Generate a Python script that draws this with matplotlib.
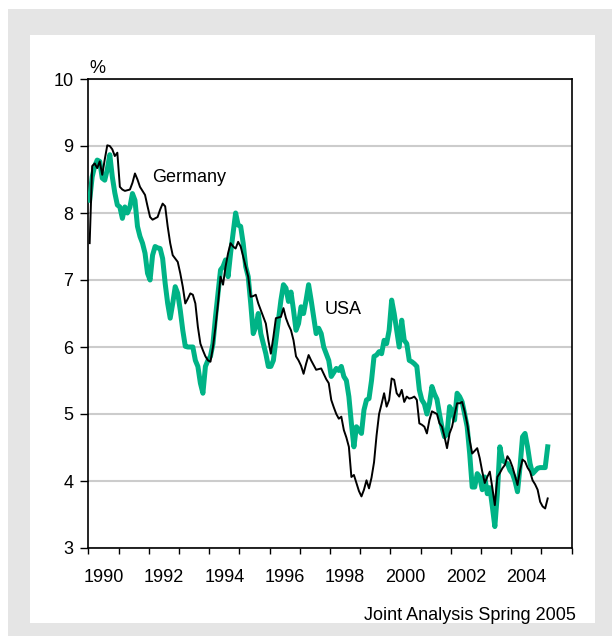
import numpy as np
import matplotlib
matplotlib.use("Agg")
import matplotlib.pyplot as plt
from matplotlib.patches import Rectangle

plt.rcParams['font.family'] = ['Liberation Sans', 'DejaVu Sans']

# monthly long-term interest rates, % (Jan 1990 - Mar 2005)
germany = [
    7.55, 8.70, 8.74, 8.67, 8.77, 8.57, 8.80, 9.01, 9.00, 8.95, 8.85, 8.90,  # 1990
    8.39, 8.35, 8.33, 8.34, 8.35, 8.45, 8.59, 8.50, 8.39, 8.33, 8.27, 8.10,  # 1991
    7.94, 7.90, 7.92, 7.94, 8.05, 8.14, 8.10, 7.80, 7.55, 7.37, 7.32, 7.27,  # 1992
    7.10, 6.90, 6.65, 6.72, 6.80, 6.78, 6.65, 6.30, 6.05, 5.95, 5.86, 5.80,  # 1993
    5.78, 6.00, 6.30, 6.65, 7.05, 6.93, 7.20, 7.40, 7.55, 7.50, 7.47, 7.57,  # 1994
    7.50, 7.35, 7.20, 7.05, 6.75, 6.76, 6.78, 6.65, 6.55, 6.45, 6.35, 6.10,  # 1995
    5.90, 6.15, 6.43, 6.44, 6.45, 6.58, 6.43, 6.33, 6.25, 6.10, 5.86, 5.80,  # 1996
    5.72, 5.60, 5.75, 5.88, 5.80, 5.73, 5.66, 5.67, 5.68, 5.60, 5.52, 5.46,  # 1997
    5.21, 5.10, 5.00, 4.93, 4.96, 4.76, 4.65, 4.51, 4.06, 4.09, 3.97, 3.85,  # 1998
    3.77, 3.87, 4.01, 3.89, 4.05, 4.28, 4.68, 5.00, 5.15, 5.31, 5.11, 5.21,  # 1999
    5.53, 5.51, 5.31, 5.26, 5.36, 5.18, 5.26, 5.23, 5.24, 5.26, 5.21, 4.86,  # 2000
    4.84, 4.81, 4.71, 4.91, 5.04, 5.02, 5.00, 4.86, 4.81, 4.66, 4.49, 4.71,  # 2001
    4.81, 4.99, 5.16, 5.16, 5.18, 5.04, 4.86, 4.61, 4.41, 4.45, 4.49, 4.34,  # 2002
    4.14, 3.97, 4.06, 4.14, 3.90, 3.64, 4.06, 4.12, 4.19, 4.24, 4.37, 4.31,  # 2003
    4.21, 4.08, 3.94, 4.16, 4.32, 4.29, 4.20, 4.14, 4.01, 3.95, 3.87, 3.69,  # 2004
    3.62, 3.59, 3.74,                                                        # 2005
]
usa = [
    8.19, 8.54, 8.70, 8.79, 8.77, 8.52, 8.49, 8.65, 8.87, 8.54, 8.30, 8.12,  # 1990
    8.09, 7.92, 8.09, 8.00, 8.09, 8.29, 8.19, 7.80, 7.65, 7.55, 7.40, 7.10,  # 1991
    7.00, 7.37, 7.50, 7.48, 7.47, 7.32, 6.95, 6.65, 6.43, 6.65, 6.90, 6.80,  # 1992
    6.55, 6.25, 6.01, 6.00, 6.00, 6.00, 5.80, 5.71, 5.46, 5.31, 5.71, 5.80,  # 1993
    5.86, 6.05, 6.45, 6.80, 7.15, 7.20, 7.30, 7.05, 7.40, 7.70, 8.00, 7.82,  # 1994
    7.80, 7.55, 7.20, 7.05, 6.65, 6.20, 6.30, 6.50, 6.20, 6.05, 5.90, 5.71,  # 1995
    5.71, 5.80, 6.10, 6.40, 6.70, 6.93, 6.88, 6.68, 6.82, 6.55, 6.25, 6.35,  # 1996
    6.60, 6.50, 6.70, 6.93, 6.70, 6.45, 6.20, 6.28, 6.20, 6.00, 5.90, 5.80,  # 1997
    5.56, 5.62, 5.68, 5.65, 5.71, 5.56, 5.50, 5.26, 4.86, 4.51, 4.81, 4.76,  # 1998
    4.71, 5.06, 5.21, 5.23, 5.50, 5.86, 5.88, 5.93, 5.90, 6.10, 6.05, 6.25,  # 1999
    6.70, 6.50, 6.25, 6.00, 6.40, 6.10, 6.05, 5.80, 5.78, 5.75, 5.71, 5.36,  # 2000
    5.21, 5.15, 5.00, 5.15, 5.41, 5.30, 5.22, 5.00, 4.80, 4.66, 4.70, 5.11,  # 2001
    5.05, 4.91, 5.31, 5.26, 5.18, 5.00, 4.81, 4.41, 3.91, 3.91, 4.11, 4.06,  # 2002
    3.87, 4.06, 3.81, 3.90, 3.62, 3.32, 3.81, 4.51, 4.31, 4.28, 4.26, 4.16,  # 2003
    4.11, 4.00, 3.84, 4.21, 4.66, 4.71, 4.51, 4.26, 4.11, 4.15, 4.19, 4.20,  # 2004
    4.20, 4.20, 4.51,                                                        # 2005
]
start_year = 1990
year_labels = ['1990', '1992', '1994', '1996', '1998', '2000', '2002', '2004']

# mid-month positions
t = start_year + (np.arange(len(germany)) + 0.5) / 12

W, H = 612, 644
fig = plt.figure(figsize=(W / 100, H / 100), dpi=100)
fig.patch.set_facecolor('white')

# grey frame with white panel
fig.add_artist(Rectangle((8 / W, 1 - 636 / H), (W - 8) / W, (636 - 9) / H,
                         transform=fig.transFigure, facecolor='#e5e5e5', edgecolor='none', zorder=0))
fig.add_artist(Rectangle((30 / W, 1 - 622.5 / H), (594.5 - 30) / W, (622.5 - 35) / H,
                         transform=fig.transFigure, facecolor='white', edgecolor='none', zorder=0))

ax = fig.add_axes([88.4 / W, 1 - 548 / H, (571.6 - 88.4) / W, (548 - 79) / H])
ax.set_facecolor('none')

ax.plot(t, usa, color='#00b386', lw=3.6, solid_joinstyle='round', zorder=3)
ax.plot(t, germany, color='black', lw=1.4, zorder=4)

ax.set_xlim(1990, 2006)
ax.set_ylim(3, 10)

ax.set_yticks(range(3, 11))
ax.yaxis.grid(True, color='#cccccc', lw=1.5)
ax.set_axisbelow(True)

ax.set_xticks(range(1990, 2007))
ax.set_xticklabels([])
ax.set_xticks([int(y) + 0.5 for y in year_labels], minor=True)
ax.set_xticklabels(year_labels, minor=True)

ax.tick_params(axis='x', which='major', direction='out', length=4.5, width=1)
ax.tick_params(axis='x', which='minor', length=0, pad=15, labelsize=13)
ax.tick_params(axis='y', direction='out', length=5.8, width=1, pad=5, labelsize=13)

for s in ax.spines.values():
    s.set_linewidth(1.2)
    s.set_color('black')

ax.text(1990.02, 10.09, '%', fontsize=13, ha='left', va='baseline')
ax.text(1992.1, 8.46, 'Germany', fontsize=13, ha='left', va='baseline')
ax.text(1997.81, 6.5, 'USA', fontsize=13, ha='left', va='baseline')

fig.text(575.6 / W, 1 - 620 / H, 'Joint Analysis Spring 2005', fontsize=13,
         ha='right', va='baseline')

fig.savefig('out.png', dpi=100)
